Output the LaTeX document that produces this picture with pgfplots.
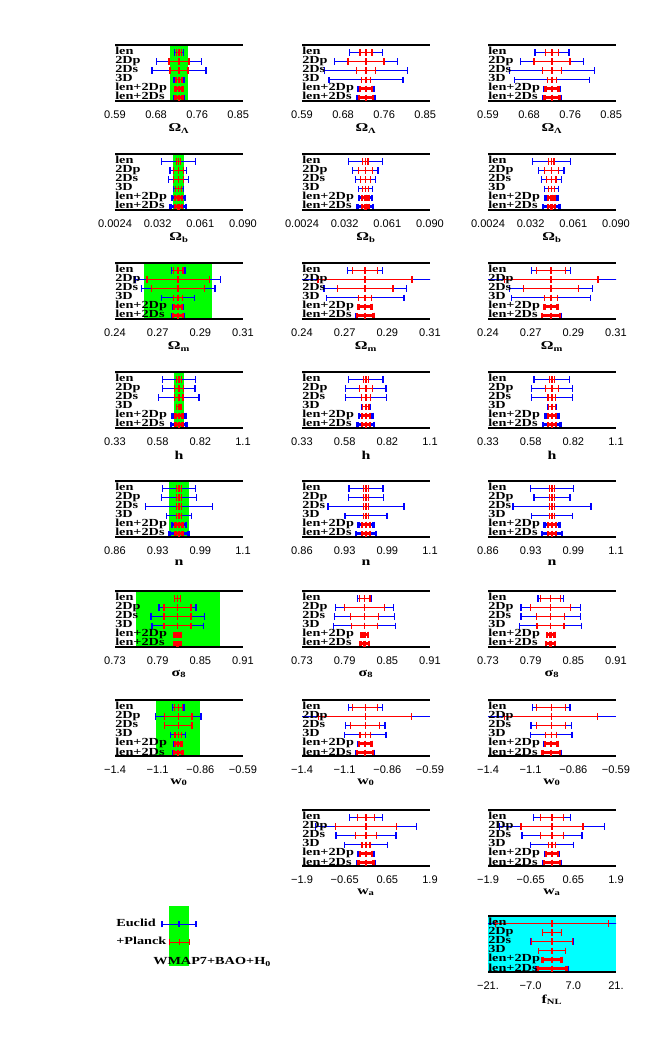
\documentclass[border=0pt]{standalone}
\usepackage{fontspec}
\usepackage{pgfplots}
\pgfplotsset{compat=1.18}
\usepackage{pgfplotstable}

\newfontfamily\lblf[FakeStretch=1.32]{Liberation Serif}
\newfontfamily\tickf{Liberation Sans}
\newcommand{\lblfont}{\lblf\bfseries\fontsize{8.1}{8}\selectfont}
\newcommand{\xlabfont}{\lblf\bfseries\fontsize{9}{9}\selectfont}
\newcommand{\tickfont}{\tickf\fontsize{8.3}{9}\selectfont}

\definecolor{pblue}{RGB}{0,0,255}
\definecolor{pred}{RGB}{255,0,0}
\definecolor{pgreen}{RGB}{0,255,0}
\definecolor{pcyan}{RGB}{0,255,255}

\tikzset{rl/.style={anchor=base west, inner sep=0pt, font=\lblfont}}

\pgfplotsset{
  panel/.style={scale only axis, width=96pt, height=42pt, anchor=north west,
    ymin=0, ymax=6.2, ytick=\empty, major tick length=0pt,
    scaled x ticks=false,
    separate axis lines, axis on top,
    x axis line style={line width=1.3pt}, y axis line style={draw=none},
    xticklabel style={font=\tickfont, inner sep=0pt, anchor=north, yshift=-7pt},
    xlabel style={font=\xlabfont, inner sep=0pt, anchor=north,
      at={(axis description cs:0.5,0)}, yshift=-17pt}},
  eb/.style n args={2}{color=#1, only marks, mark=|, mark size=2.3pt,
    mark options={line width=#2},
    error bars/x dir=both, error bars/x explicit,
    error bars/error bar style={line width=#2},
    error bars/error mark options={rotate=90, mark size=2.3pt, line width=#2}},
  % one style per parameter row
  rLam/.style={xmin=0.59, xmax=0.86, xtick={0.59,0.67667,0.76333,0.85},
    xticklabels={0.59,0.68,0.76,0.85}, xlabel={Ω\textsubscript{Λ}}},
  rOb/.style={xmin=0.0024, xmax=0.090, xtick={0.0024,0.0316,0.0608,0.090},
    xticklabels={0.0024,0.032,0.061,0.090}, xlabel={Ω\textsubscript{b}}},
  rOm/.style={xmin=0.24, xmax=0.31, xtick={0.24,0.26333,0.28667,0.31},
    xticklabels={0.24,0.27,0.29,0.31}, xlabel={Ω\textsubscript{m}}},
  rh/.style={xmin=0.33, xmax=1.071, xtick={0.33,0.577,0.824,1.071},
    xticklabels={0.33,0.58,0.82,1.1}, xlabel={h}},
  rn/.style={xmin=0.86, xmax=1.06, xtick={0.86,0.92667,0.99333,1.06},
    xticklabels={0.86,0.93,0.99,1.1}, xlabel={n}},
  rs/.style={xmin=0.73, xmax=0.91, xtick={0.73,0.79,0.85,0.91},
    xticklabels={0.73,0.79,0.85,0.91}, xlabel={σ\textsubscript{8}}},
  rw/.style={xmin=-1.4, xmax=-0.59, xtick={-1.4,-1.13,-0.86,-0.59},
    xticklabels={−1.4,−1.1,−0.86,−0.59}, xlabel={w\textsubscript{0}}},
  rwa/.style={xmin=-1.9, xmax=1.9, xtick={-1.9,-0.6333,0.6333,1.9},
    xticklabels={−1.9,−0.65,0.65,1.9}, xlabel={w\textsubscript{a}}},
  rf/.style={xmin=-21, xmax=21, xtick={-21,-7,7,21},
    xticklabels={−21.,−7.0,7.0,21.}, xlabel={f\textsubscript{NL}}},
}

% columns: y = row, c = centre, b = Euclid (blue) half width, r = +Planck (red) half width
\pgfplotstableread{
y c b r
5.37 0.725 0.0098 0.0050
4.37 0.725 0.0480 0.0210
3.37 0.725 0.0570 0.0190
2.37 0.725 0.0105 0.0063
1.37 0.725 0.0085 0.0070
0.37 0.725 0.0098 0.0077
}\LamA
\pgfplotstableread{
y c b r
5.37 0.725 0.035 0.0126
4.37 0.725 0.066 0.038
3.37 0.725 0.087 0.020
2.37 0.725 0.078 0.0095
1.37 0.725 0.017 0.0126
0.37 0.725 0.019 0.015
}\LamB
\pgfplotstableread{
y c b r
5.37 0.725 0.036 0.013
4.37 0.725 0.066 0.038
3.37 0.725 0.090 0.020
2.37 0.725 0.079 0.0087
1.37 0.725 0.016 0.014
0.37 0.725 0.019 0.016
}\LamC

\pgfplotstableread{
y c b r
5.37 0.0458 0.0115 0.0012
4.37 0.0458 0.0057 0.0036
3.37 0.0458 0.0067 0.0036
2.37 0.0458 0.0033 0.0021
1.37 0.0458 0.0044 0.0023
0.37 0.0458 0.0053 0.0025
}\ObA
\pgfplotstableread{
y c b r
5.37 0.0458 0.0118 0.0018
4.37 0.0458 0.0086 0.0048
3.37 0.0458 0.0070 0.0035
2.37 0.0458 0.0046 0.0019
1.37 0.0458 0.0043 0.0022
0.37 0.0458 0.0053 0.0022
}\ObB
\pgfplotstableread{
y c b r
5.37 0.0458 0.0128 0.0018
4.37 0.0458 0.0086 0.0047
3.37 0.0458 0.0069 0.0032
2.37 0.0458 0.0047 0.0022
1.37 0.0458 0.0041 0.0022
0.37 0.0458 0.0056 0.0023
}\ObC

\pgfplotstableread{
y c b r
5.37 0.2745 0.0038 0.0027
4.37 0.2745 0.0234 0.0170
3.37 0.2745 0.0202 0.0144
2.37 0.2745 0.0091 0.0024
1.37 0.2745 0.0024 0.0021
0.37 0.2745 0.0033 0.0028
}\OmA
\pgfplotstableread{
y c b r
5.37 0.2745 0.0095 0.0069
4.37 0.2745 0.0400 0.0257
3.37 0.2745 0.0225 0.0153
2.37 0.2745 0.0213 0.0036
1.37 0.2745 0.0037 0.0035
0.37 0.2745 0.0049 0.0045
}\OmB
\pgfplotstableread{
y c b r
5.37 0.2745 0.0107 0.0080
4.37 0.2745 0.0400 0.0256
3.37 0.2745 0.0228 0.0149
2.37 0.2745 0.0217 0.0035
1.37 0.2745 0.0037 0.0035
0.37 0.2745 0.0051 0.0049
}\OmC

\pgfplotstableread{
y c b r
5.37 0.70 0.095 0.015
4.37 0.70 0.093 0.026
3.37 0.70 0.116 0.024
2.37 0.70 0.016 0.0125
1.37 0.70 0.037 0.020
0.37 0.70 0.045 0.020
}\hA
\pgfplotstableread{
y c b r
5.37 0.70 0.099 0.015
4.37 0.70 0.116 0.037
3.37 0.70 0.118 0.025
2.37 0.70 0.025 0.018
1.37 0.70 0.039 0.022
0.37 0.70 0.048 0.022
}\hB
\pgfplotstableread{
y c b r
5.37 0.70 0.104 0.016
4.37 0.70 0.117 0.037
3.37 0.70 0.120 0.023
2.37 0.70 0.025 0.019
1.37 0.70 0.038 0.023
0.37 0.70 0.050 0.023
}\hC

\pgfplotstableread{
y c b r
5.37 0.96 0.0256 0.0045
4.37 0.96 0.0270 0.0045
3.37 0.96 0.0527 0.0045
2.37 0.96 0.0200 0.0045
1.37 0.96 0.0113 0.0056
0.37 0.96 0.0149 0.0056
}\nA
\pgfplotstableread{
y c b r
5.37 0.96 0.0267 0.0045
4.37 0.96 0.0279 0.0045
3.37 0.96 0.0594 0.0045
2.37 0.96 0.0327 0.0045
1.37 0.96 0.0118 0.0062
0.37 0.96 0.0152 0.0062
}\nB
\pgfplotstableread{
y c b r
5.37 0.96 0.0335 0.0045
4.37 0.96 0.0280 0.0045
3.37 0.96 0.0610 0.0045
2.37 0.96 0.0324 0.0045
1.37 0.96 0.0118 0.0062
0.37 0.96 0.0158 0.0062
}\nC

\pgfplotstableread{
y c b r
5.37 0.818 0.0046 0.0040
4.37 0.818 0.0260 0.0190
3.37 0.818 0.0375 0.0190
2.37 0.818 0.0360 0.0190
1.37 0.818 0.0043 0.0043
0.37 0.818 0.0043 0.0043
}\sA
\pgfplotstableread{
y c b r
5.37 0.818 0.0094 0.0076
4.37 0.818 0.0410 0.0280
3.37 0.818 0.0420 0.0200
2.37 0.818 0.0436 0.0180
1.37 0.818 0.0046 0.0046
0.37 0.818 0.0058 0.0058
}\sB
\pgfplotstableread{
y c b r
5.37 0.818 0.0177 0.0142
4.37 0.818 0.0416 0.0280
3.37 0.818 0.0416 0.0200
2.37 0.818 0.0433 0.0190
1.37 0.818 0.0053 0.0053
0.37 0.818 0.0066 0.0066
}\sC

\pgfplotstableread{
y c b r
5.37 -1.0 0.0365 0.026
4.37 -1.0 0.144 0.087
3.37 -1.0 0.087 0.087
2.37 -1.0 0.047 0.0205
1.37 -1.0 0.025 0.0205
0.37 -1.0 0.031 0.026
}\wA
\pgfplotstableread{
y c b r
5.37 -1.0 0.108 0.079
4.37 -1.0 0.450 0.294
3.37 -1.0 0.125 0.091
2.37 -1.0 0.131 0.033
1.37 -1.0 0.042 0.040
0.37 -1.0 0.056 0.051
}\wB
\pgfplotstableread{
y c b r
5.37 -1.0 0.119 0.091
4.37 -1.0 0.450 0.295
3.37 -1.0 0.128 0.091
2.37 -1.0 0.131 0.034
1.37 -1.0 0.043 0.041
0.37 -1.0 0.058 0.056
}\wC

\pgfplotstableread{
y c b r
5.37 0 0.50 0.26
4.37 0 1.51 0.91
3.37 0 0.89 0.31
2.37 0 0.64 0.12
1.37 0 0.22 0.18
0.37 0 0.26 0.22
}\waB
\pgfplotstableread{
y c b r
5.37 0 0.54 0.33
4.37 0 1.55 0.92
3.37 0 0.89 0.33
2.37 0 0.63 0.11
1.37 0 0.21 0.18
0.37 0 0.26 0.23
}\waC

\pgfplotstableread{
y c b r
5.37 0 25.0 18.6
4.37 0 3.2 3.1
3.37 0 6.9 6.6
2.37 0 4.5 4.4
1.37 0 3.2 3.1
0.37 0 5.1 4.8
}\fC

\newcommand{\bars}[1]{%
  \addplot[eb={pblue}{0.9pt}, skip coords between index={4}{6}] table[x=c, y=y, x error=b] {#1};
  \addplot[eb={pblue}{1.8pt}, skip coords between index={0}{4}] table[x=c, y=y, x error=b] {#1};
  \addplot[eb={pred}{0.9pt}, skip coords between index={4}{6}] table[x=c, y=y, x error=r] {#1};
  \addplot[eb={pred}{1.8pt}, skip coords between index={0}{4}] table[x=c, y=y, x error=r] {#1};
}
\newcommand{\rowlabels}{%
  \node[rl] at (rel axis cs:0,0.8242) {len};
  \node[rl] at (rel axis cs:0,0.6629) {2Dp};
  \node[rl] at (rel axis cs:0,0.5016) {2Ds};
  \node[rl] at (rel axis cs:0,0.3403) {3D};
  \node[rl] at (rel axis cs:0,0.1790) {len+2Dp};
  \node[rl] at (rel axis cs:0,0.0177) {len+2Ds};
}
\newcommand{\band}[3]{%
  \addplot[fill=#3, draw=none] coordinates {(#1,0) (#2,0) (#2,6.2) (#1,6.2)} -- cycle;}
% #1 left px, #2 top px, #3 row style, #4 table, #5 background
\newcommand{\panel}[5]{%
  \begin{axis}[panel, at={({#1*0.75pt},{(1058-#2)*0.75pt})}, #3]
  #5
  \bars{#4}
  \rowlabels
  \end{axis}}

\begin{document}
\begin{tikzpicture}
\useasboundingbox (0,0) rectangle (498pt,793.5pt);

\panel{115}{45}{rLam}{\LamA}{\band{0.705}{0.745}{pgreen}}
\panel{302}{45}{rLam}{\LamB}{}
\panel{488}{45}{rLam}{\LamC}{}

\panel{115}{154}{rOb}{\ObA}{\band{0.0422}{0.0494}{pgreen}}
\panel{302}{154}{rOb}{\ObB}{}
\panel{488}{154}{rOb}{\ObC}{}

\panel{115}{263}{rOm}{\OmA}{\band{0.256}{0.293}{pgreen}}
\panel{302}{263}{rOm}{\OmB}{}
\panel{488}{263}{rOm}{\OmC}{}

\panel{115}{372}{rh}{\hA}{\band{0.671}{0.729}{pgreen}}
\panel{302}{372}{rh}{\hB}{}
\panel{488}{372}{rh}{\hC}{}

\panel{115}{481}{rn}{\nA}{\band{0.9451}{0.9749}{pgreen}}
\panel{302}{481}{rn}{\nB}{}
\panel{488}{481}{rn}{\nC}{}

\panel{115}{591}{rs}{\sA}{\band{0.759}{0.877}{pgreen}}
\panel{302}{591}{rs}{\sB}{}
\panel{488}{591}{rs}{\sC}{}

\panel{115}{700}{rw}{\wA}{\band{-1.14}{-0.86}{pgreen}}
\panel{302}{700}{rw}{\wB}{}
\panel{488}{700}{rw}{\wC}{}

\panel{302}{810}{rwa}{\waB}{}
\panel{488}{810}{rwa}{\waC}{}

\panel{488}{916}{rf}{\fC}{\band{-21}{21}{pcyan}}

% key
\begin{axis}[at={({115*0.75pt},{(1058-900)*0.75pt})}, anchor=north west,
  scale only axis, width=96pt, height=52.5pt, xmin=0, xmax=128, ymin=0, ymax=70,
  y dir=reverse, hide axis, clip=false]
  \addplot[fill=pgreen, draw=none] coordinates {(54,6) (74,6) (74,66) (54,66)} -- cycle;
  \addplot[eb={pblue}{0.9pt}] coordinates {(64,24.3) +- (17,0)};
  \addplot[eb={pred}{0.9pt}] coordinates {(64.5,42.3) +- (10,0)};
  \node[rl] at (axis cs:1,27) {Euclid};
  \node[rl] at (axis cs:1,45) {+Planck};
  \node[rl] at (axis cs:38,65) {WMAP7+BAO+H\textsubscript{0}};
\end{axis}
\end{tikzpicture}
\end{document}
